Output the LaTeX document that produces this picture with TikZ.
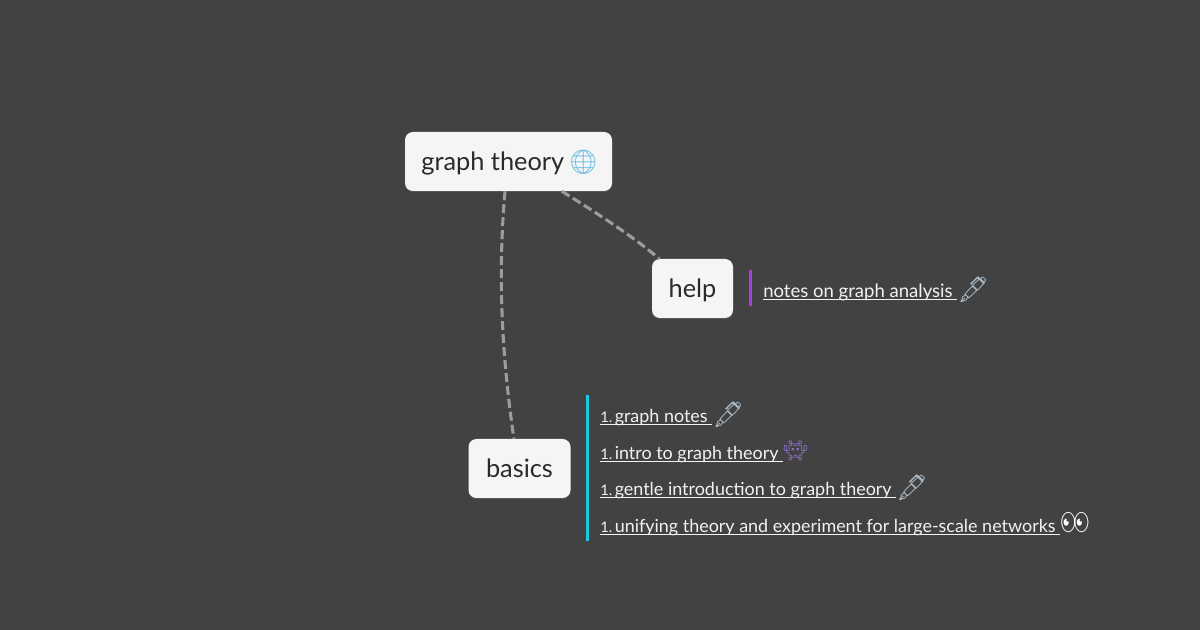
\documentclass[tikz,border=0pt]{standalone}
\usepackage{fontspec}
\setmainfont{Lato}
\newfontfamily\emojifont{Noto Emoji}
\usetikzlibrary{shadows}
\definecolor{bgdark}{HTML}{424242}
\definecolor{boxfill}{HTML}{F5F5F5}
\definecolor{boxtext}{HTML}{2A2A2A}
\definecolor{linkgray}{HTML}{9C9C9C}
\definecolor{notewhite}{HTML}{F2F2F2}
\definecolor{barpurple}{HTML}{A63FDB}
\definecolor{barcyan}{HTML}{17C8DE}
\definecolor{globeblue}{HTML}{6DBFE3}
\definecolor{penblue}{HTML}{A9B6C2}
\definecolor{invader}{HTML}{9070CC}
\newcommand{\emo}[3]{{\emojifont\fontsize{#2}{#2}\selectfont\textcolor{#1}{#3}}}
\newcommand{\pen}{\raisebox{-0.7pt}{\emo{penblue}{19pt}{🖋}}}
\newcommand{\numone}{{\fontsize{11pt}{15pt}\selectfont 1.}\hspace{-2.7pt} }
\newlength{\notelen}
\newcommand{\noteline}[1]{\settowidth{\notelen}{#1\ }\rlap{\rule[-1.7pt]{\notelen}{0.6pt}}#1\ }
\tikzset{
	topic/.style={draw=none, fill=boxfill, rounded corners=6pt, text=boxtext, inner sep=0pt,
		font=\fontsize{19pt}{20pt}\selectfont, text height=16pt, text depth=3.2pt,
		drop shadow={shadow xshift=0pt, shadow yshift=-0.8pt, opacity=0.35}},
	link/.style={draw=linkgray, line width=2.3pt, dash pattern=on 6.75pt off 3pt},
	notes/.style={anchor=base west, text=notewhite, inner sep=0pt,
		font=\fontsize{13.45pt}{15pt}\selectfont},
	bar/.style={line width=2.3pt}
}
\begin{document}
\begin{tikzpicture}[x=0.75pt, y=-0.75pt]
		\fill[bgdark] (0,0) rectangle (1200,630);
		% topics
		\node[topic, minimum width=155.25pt, minimum height=44.25pt] (root) at (508.5,161.5) {\hspace*{2.25pt}graph theory\hspace{3pt}\emo{globeblue}{18pt}{🌐}};
		\node[topic, minimum width=60.75pt, minimum height=44.25pt] (help) at (692.5,288.5) {help};
		\node[topic, minimum width=76.5pt, minimum height=44.25pt] (basics) at (519.5,468.5) {basics};

		% links
		\draw[link] ([xshift=-2.6pt]root.south) .. controls (498,270) and (501,350) .. ([xshift=-4.2pt]basics.north);
		\draw[link] ([xshift=40pt]root.south) .. controls (600,215) and (635,238) .. ([xshift=-25pt]help.north);

		% notes on help
		\coordinate (helptop) at (750.5,270);
		\coordinate (helpend) at (750.5,306);
		\draw[bar, barpurple] (helptop) -- (helpend);
		\node[notes, font=\fontsize{13.9pt}{15pt}\selectfont] (helpnote) at (763,297.5) {\noteline{notes on graph analysis}\pen};

		% notes on basics
		\coordinate (basicstop) at (587.5,395);
		\coordinate (basicsend) at (587.5,541);
		\draw[bar, barcyan] (basicstop) -- (basicsend);
		\node[notes] (noteone) at (600,422.5) {\noteline{\numone graph notes}\pen};
		\node[notes] (notetwo) at (600,459.5) {\noteline{\numone intro to graph theory}\raisebox{1.8pt}{\emo{invader}{14.5pt}{👾}}};
		\node[notes] (notethree) at (600,495.5) {\noteline{\numone gentle introduction to graph theory}\pen};
		\node[notes] (notefour) at (600,532.5) {\noteline{\numone unifying theory and experiment for large-scale networks}\raisebox{1.5pt}{\emo{white}{17.5pt}{👀}}};
	\end{tikzpicture}
\end{document}
